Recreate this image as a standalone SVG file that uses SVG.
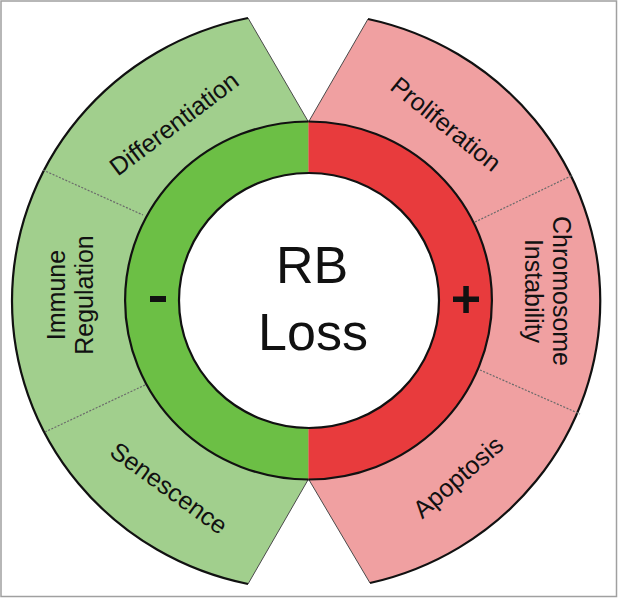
<svg xmlns="http://www.w3.org/2000/svg" width="618" height="598" viewBox="0 0 618 598">
  <style>
    .lbl { font-family: "Liberation Sans", Arial, sans-serif; font-size: 25px; fill: #111; text-anchor: middle; }
    .big { font-family: "Liberation Sans", Arial, sans-serif; font-size: 52px; fill: #111; text-anchor: middle; }
    .edge { fill: none; stroke: #4a4a4a; stroke-width: 1; }
    .arc { fill: none; stroke: #111; stroke-width: 2.2; }
    .div { fill: none; stroke: #6a6a6a; stroke-width: 1.2; stroke-dasharray: 2 1.5; }
    .neg { fill: #a1cf8d; }
    .pos { fill: #f0a0a1; }
  </style>
  <rect x="1" y="1" width="615.5" height="595.5" fill="#ffffff" stroke="#a0a0a0" stroke-width="1.5"/>

  <g id="segment-negative">
    <path class="neg" d="M 308.5,122 L 248,18 A 296 289 0 0 0 248,584 L 308.5,479 Z"/>
    <path class="edge" d="M 308.5,122 L 248,18 M 308.5,479 L 248,584"/>
    <path class="arc" d="M 248,18 A 296 289 0 0 0 248,584"/>
    <path class="div" d="M 43,170 L 143,215 M 45,432 L 145,385"/>
  </g>
  <g id="segment-positive">
    <path class="pos" d="M 308.5,122 L 368,19 A 296 289 0 0 1 370,583 L 308.5,479 Z"/>
    <path class="edge" d="M 308.5,122 L 368,19 M 308.5,479 L 370,583"/>
    <path class="arc" d="M 368,19 A 296 289 0 0 1 370,583"/>
    <path class="div" d="M 475,222 L 573,175 M 480,370 L 580,414"/>
  </g>

  <g id="ring-negative">
    <path fill="#6cbf45" d="M 308.5,121.5 A 183.5 179 0 0 0 308.5,479.5 L 308.5,428 A 130 127.5 0 0 1 308.5,173 Z"/>
    <path class="arc" d="M 308.5,121.5 A 183.5 179 0 0 0 308.5,479.5"/>
    <rect x="150" y="296" width="16" height="6" fill="#111"/>
  </g>
  <g id="ring-positive">
    <path fill="#e83b3d" d="M 308.5,121.5 A 183.5 179 0 0 1 308.5,479.5 L 308.5,428 A 130 127.5 0 0 0 308.5,173 Z"/>
    <path class="arc" d="M 308.5,121.5 A 183.5 179 0 0 1 308.5,479.5"/>
    <rect x="453" y="296.5" width="26" height="5.5" fill="#111"/>
    <rect x="463.3" y="286" width="5.5" height="27" fill="#111"/>
  </g>

  <g id="center">
    <ellipse cx="309" cy="300.5" rx="130" ry="127.5" fill="#ffffff" stroke="#111" stroke-width="2.2"/>
    <text class="big" x="312" y="283">RB</text>
    <text class="big" x="313" y="350">Loss</text>
  </g>

  <g id="differentiation">
    <text class="lbl" transform="translate(174,123.5) rotate(-37)" y="0" dy="0.35em">Differentiation</text>
  </g>
  <g id="immune-regulation">
    <text class="lbl" transform="translate(65,295) rotate(-90)"><tspan x="0" y="0">Immune</tspan><tspan x="0" y="28">Regulation</tspan></text>
  </g>
  <g id="senescence">
    <text class="lbl" transform="translate(169,488) rotate(36)" y="0" dy="0.35em">Senescence</text>
  </g>
  <g id="proliferation">
    <text class="lbl" transform="translate(446,124) rotate(39)" y="0" dy="0.35em">Proliferation</text>
  </g>
  <g id="chromosome-instability">
    <text class="lbl" transform="translate(553,291) rotate(90)"><tspan x="0" y="0">Chromosome</tspan><tspan x="0" y="28">Instability</tspan></text>
  </g>
  <g id="apoptosis">
    <text class="lbl" transform="translate(458,477) rotate(-41)" y="0" dy="0.35em">Apoptosis</text>
  </g>
</svg>
